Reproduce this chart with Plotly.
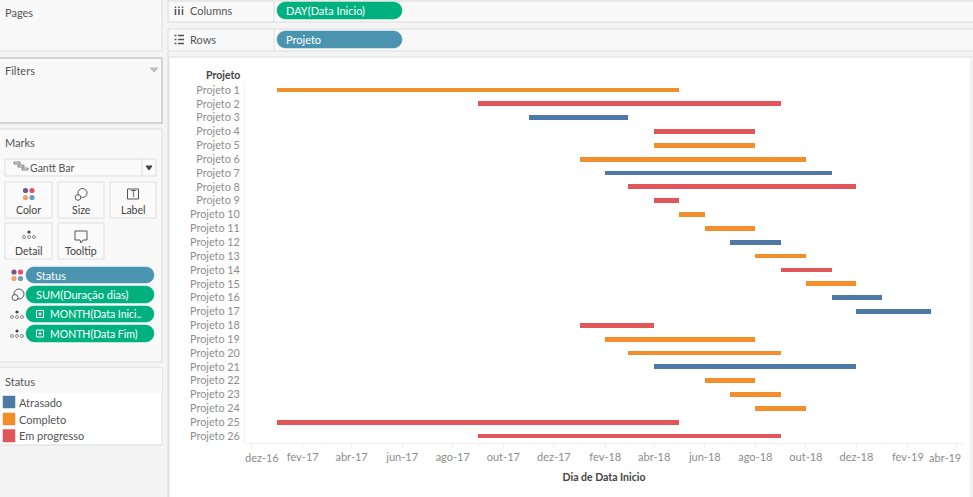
import math

import pandas as pd
import plotly.graph_objects as go

W, H = 973, 497

projetos = ['Projeto %d' % i for i in range(1, 27)]
data_inicio = ['2017-01-01', '2017-09-01', '2017-11-01', '2018-04-01', '2018-04-01', '2018-01-01',
               '2018-02-01', '2018-03-01', '2018-04-01', '2018-05-01', '2018-06-01', '2018-07-01',
               '2018-08-01', '2018-09-01', '2018-10-01', '2018-11-01', '2018-12-01', '2018-01-01',
               '2018-02-01', '2018-03-01', '2018-04-01', '2018-06-01', '2018-07-01', '2018-08-01',
               '2017-01-01', '2017-09-01']
data_fim = ['2018-05-01', '2018-09-01', '2018-03-01', '2018-08-01', '2018-08-01', '2018-10-01',
            '2018-11-01', '2018-12-01', '2018-05-01', '2018-06-01', '2018-08-01', '2018-09-01',
            '2018-10-01', '2018-11-01', '2018-12-01', '2019-01-01', '2019-03-01', '2018-04-01',
            '2018-08-01', '2018-09-01', '2018-12-01', '2018-08-01', '2018-09-01', '2018-10-01',
            '2018-05-01', '2018-09-01']
status = ['Completo', 'Em progresso', 'Atrasado', 'Em progresso', 'Completo', 'Completo',
          'Atrasado', 'Em progresso', 'Em progresso', 'Completo', 'Completo', 'Atrasado',
          'Completo', 'Em progresso', 'Completo', 'Atrasado', 'Atrasado', 'Em progresso',
          'Completo', 'Completo', 'Atrasado', 'Completo', 'Completo', 'Completo',
          'Em progresso', 'Em progresso']

status_nomes = ['Atrasado', 'Completo', 'Em progresso']
status_cores = ['#4e79a7', '#f28e2b', '#e15759']

tick_datas = ['2016-12-01', '2017-02-01', '2017-04-01', '2017-06-01', '2017-08-01', '2017-10-01',
              '2017-12-01', '2018-02-01', '2018-04-01', '2018-06-01', '2018-08-01', '2018-10-01',
              '2018-12-01', '2019-02-01', '2019-04-01']
tick_textos = ['dez-16', 'fev-17', 'abr-17', 'jun-17', 'ago-17', 'out-17', 'dez-17', 'fev-18',
               'abr-18', 'jun-18', 'ago-18', 'out-18', 'dez-18', 'fev-19', 'abr-19']

FONT = 'Lato'
GREEN = '#00b180'
BLUE = '#4a94b0'
GRID = '#dcdcdc'
TXT = '#555555'
TICK_TXT = '#8c8c8c'

df = pd.DataFrame({'projeto': projetos, 'ini': pd.to_datetime(data_inicio),
                   'fim': pd.to_datetime(data_fim), 'status': status})
df['dur'] = (df['fim'] - df['ini']).dt.total_seconds() * 1000

fig = go.Figure()
for nome, cor in zip(status_nomes, status_cores):
    d = df[df['status'] == nome]
    fig.add_trace(go.Bar(y=d['projeto'], x=d['dur'], base=d['ini'].dt.strftime('%Y-%m-%d'),
                         orientation='h', width=0.34, name=nome,
                         marker=dict(color=cor, line=dict(width=0)), showlegend=False))

shapes = []
annots = []


def fx(x):
    return x / W


def fy(y):
    return 1 - y / H


def rect(x0, y0, x1, y1, fill='rgba(0,0,0,0)', line=GRID, lw=1):
    shapes.append(dict(type='rect', xref='paper', yref='paper', x0=fx(x0), x1=fx(x1), y0=fy(y0), y1=fy(y1),
                       fillcolor=fill, line=dict(color=line, width=lw), layer='below'))


def circle(cx, cy, r, fill='rgba(0,0,0,0)', line='#666666', lw=1):
    shapes.append(dict(type='circle', xref='paper', yref='paper', x0=fx(cx - r), x1=fx(cx + r), y0=fy(cy - r),
                       y1=fy(cy + r), fillcolor=fill, line=dict(color=line, width=lw), layer='below'))


def hline(x0, x1, y, color='#555555', lw=1.5):
    shapes.append(dict(type='line', xref='paper', yref='paper', x0=fx(x0), x1=fx(x1), y0=fy(y), y1=fy(y),
                       line=dict(color=color, width=lw), layer='below'))


def vline(x, y0, y1, color=GRID, lw=1):
    shapes.append(dict(type='line', xref='paper', yref='paper', x0=fx(x), x1=fx(x), y0=fy(y0), y1=fy(y1),
                       line=dict(color=color, width=lw), layer='below'))


def path(pts, fill='rgba(0,0,0,0)', line='#666666', lw=1, close=True):
    d = 'M ' + ' L '.join('%.5f %.5f' % (fx(a), fy(b)) for a, b in pts) + (' Z' if close else '')
    shapes.append(dict(type='path', xref='paper', yref='paper', path=d, fillcolor=fill,
                       line=dict(color=line, width=lw), layer='below'))


def text(x, y, s, size=11, color=TXT, anchor='left', font=FONT):
    annots.append(dict(xref='paper', yref='paper', x=fx(x), y=fy(y), text=s, showarrow=False, xanchor=anchor,
                       yanchor='middle', font=dict(size=size, color=color, family=font),
                       borderpad=0, borderwidth=0))


def pill(x0, y0, x1, y1, cor, s, tx=None, size=11):
    r = (y1 - y0) / 2
    pts = []
    for i in range(13):
        a = math.radians(-90 + i * 15)
        pts.append((x1 - r + r * math.cos(a), y0 + r + r * math.sin(a)))
    for i in range(13):
        a = math.radians(90 + i * 15)
        pts.append((x0 + r + r * math.cos(a), y0 + r + r * math.sin(a)))
    path(pts, fill=cor, line=cor, lw=0.5)
    text(tx if tx else x0 + 10, (y0 + y1) / 2, s, size=size, color='white')


def botao(x0, y0, x1, y1, s):
    rect(x0, y0, x1, y1, fill='#fafafa', line='#dedede')
    text((x0 + x1) / 2, y1 - 8, s, size=10.5, color='#444444', anchor='center')


# left side panels
rect(-1, -1, 162, 51, fill='#f9f9f9')
rect(-1, 58, 162, 123, fill='#f9f9f9', line='#c8c8c8', lw=1.5)
rect(-1, 129, 162, 362, fill='#f9f9f9')
rect(-1, 368, 162, 445, fill='white')
rect(-1, 368, 162, 393, fill='#f9f9f9', line='rgba(0,0,0,0)')
text(5, 12, 'Pages')
text(5, 70, 'Filters')
path([(150, 68), (158, 68), (154, 72)], fill='#c0c0c0', line='#c0c0c0')
text(5, 142, 'Marks')
text(5, 381, 'Status')

# shelves
rect(168, 1, 980, 22, fill='#f9f9f9')
rect(168, 29, 980, 51, fill='#f9f9f9')
vline(274, 1, 22)
vline(274, 29, 51)
for x in [175.5, 179, 182.5]:
    vline(x, 9, 15, color='#555555', lw=1.5)
    vline(x, 6.5, 8, color='#555555', lw=1.5)
text(190, 10.5, 'Columns')
for y in [35.5, 39.5, 43.5]:
    hline(178, 184, y)
    hline(174.5, 176.5, y)
text(190, 39.5, 'Rows')
pill(277, 2, 402, 19, GREEN, 'DAY(Data Inicio)', tx=286)
pill(277, 31, 402, 48, BLUE, 'Projeto', tx=286)

# main view
rect(169, 57, 980, 500, fill='white')
rect(970, 58, 973, 497, fill='#f2f2f2', line='#f2f2f2')
vline(168, 52, 497)

# marks card
rect(5, 159, 156, 176, fill='#fafafa', line='#dedede')
vline(142, 159, 176, color='#dedede')
path([(146, 166), (152, 166), (149, 170)], fill='#444444', line='#444444')
for x0, y0 in [(14, 162), (18, 165), (22, 168)]:
    rect(x0, y0, x0 + 6, y0 + 2, fill='#eeeeee', line='#666666', lw=0.8)
text(30, 168, 'Gantt Bar', size=10.5)

botao(5, 182, 52, 218, 'Color')
botao(58, 182, 104, 218, 'Size')
botao(110, 182, 156, 218, 'Label')
botao(5, 223, 52, 259, 'Detail')
botao(58, 223, 104, 259, 'Tooltip')

# color icon
for cx, cy, cor in [(25.5, 190.5, '#76568f'), (32, 190.5, '#e8506a'), (25.5, 197.5, '#f2a06b'), (32, 197.5, '#6f9bc9')]:
    circle(cx, cy, 2.6, fill=cor, line=cor, lw=0)
for cx, cy, cor in [(14, 272, '#76568f'), (20.5, 272, '#e8506a'), (14, 278.5, '#f2a06b'), (20.5, 278.5, '#6f9bc9')]:
    circle(cx, cy, 2.6, fill=cor, line=cor, lw=0)
# size icon
circle(82.5, 193, 4.5, line='#555555')
circle(78, 197.5, 2.8, fill='#fafafa', line='#555555')
circle(19, 294, 5, line='#555555')
circle(15, 297.5, 3, fill='#f9f9f9', line='#555555')
# label icon
rect(127.5, 189, 138.5, 199, fill='#fafafa', line='#555555')
text(133, 194, 'T', size=8, color='#444444', anchor='center', font='DejaVu Sans')


def detalhe(cx, cy):
    circle(cx, cy - 3, 1.6, fill='#444444', line='#444444', lw=0)
    for dx in [-5, 0, 5]:
        circle(cx + dx, cy + 2, 1.5, fill='white', line='#555555', lw=0.7)


detalhe(29, 235)
detalhe(17, 315)
detalhe(17, 334)
# tooltip icon
path([(75, 231), (87, 231), (87, 240), (83, 240), (81, 243), (80, 240), (75, 240)], line='#555555')

pill(26, 267, 154, 283, BLUE, 'Status', tx=36)
pill(26, 286, 154, 303, GREEN, 'SUM(Duração dias)', tx=36)
pill(26, 306, 154, 322, GREEN, 'MONTH(Data Inici..', tx=50, size=10.5)
pill(26, 325, 154, 342, GREEN, 'MONTH(Data Fim)', tx=50, size=10.5)
for y in [314, 333.5]:
    rect(36.5, y - 3.5, 43.5, y + 3.5, line='white')
    hline(38, 42, y, color='white', lw=0.8)
    vline(40, y - 2, y + 2, color='white', lw=0.8)

# status legend
for y0, y1, nome, cor in zip([396, 413, 429.5], [408, 425, 442], status_nomes, status_cores):
    rect(3, y0, 15, y1, fill=cor, line=cor, lw=0.5)
    text(19, (y0 + y1) / 2, nome)

# view headers
text(240, 75, '<b>Projeto</b>', size=10.5, color='#444444', anchor='right')

# first and last date labels sit inside the axis ends in tableau
text(262, 457, tick_textos[0], color=TICK_TXT, anchor='center')
text(945, 457, tick_textos[-1], color=TICK_TXT, anchor='center')
eixo_textos = [''] + tick_textos[1:-1] + ['']

fig.update_layout(
    width=W, height=H, autosize=False,
    margin=dict(l=0, r=0, t=0, b=0, pad=0),
    paper_bgcolor='#f4f4f4', plot_bgcolor='rgba(0,0,0,0)',
    barmode='overlay', bargap=0,
    font=dict(family=FONT, size=11, color=TICK_TXT),
    shapes=shapes, annotations=annots,
    xaxis=dict(domain=[fx(245), fx(963)], type='date', range=['2016-11-23 10:00', '2019-04-08 12:00'],
               automargin=False, tickmode='array', tickvals=tick_datas, ticktext=eixo_textos, tickangle=0,
               ticks='outside', ticklen=4, tickcolor='#ececec', tickwidth=1,
               minor=dict(dtick='M1', ticks='outside', ticklen=2, tickcolor='#f2f2f2'),
               showgrid=False, zeroline=False, showline=True, linecolor='#f0f0f0',
               tickfont=dict(size=11, color=TICK_TXT),
               title=dict(text='<b>Dia de Data Inicio</b>', standoff=11, font=dict(size=10.5, color='#444444'))),
    yaxis=dict(domain=[fy(443), fy(83)], type='category', categoryorder='array', categoryarray=projetos,
               automargin=False, autorange=False, range=[25.5, -0.5], showgrid=False, zeroline=False, showline=True,
               linecolor='#f2f2f2', ticks='outside', ticklen=2, tickcolor='rgba(0,0,0,0)',
               tickfont=dict(size=10.8, color=TICK_TXT)),
)

fig.write_html('out.html', post_script="document.body.style.margin='0';", config={'displayModeBar': False})
